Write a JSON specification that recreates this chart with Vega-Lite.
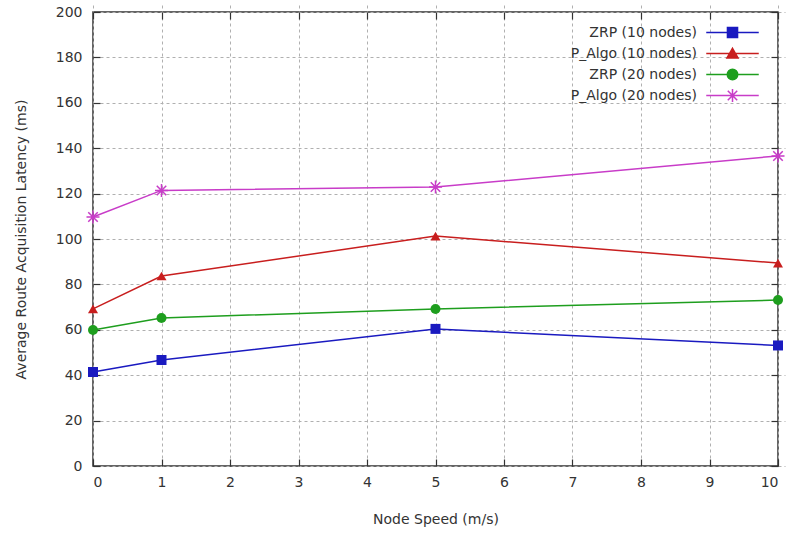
{
  "$schema": "https://vega.github.io/schema/vega-lite/v6.json",
  "width": 685,
  "height": 454,
  "autosize": "none",
  "padding": {"left": 93, "top": 12, "right": 15, "bottom": 67},
  "background": "white",
  "config": {
    "view": {"stroke": "#333333", "strokeWidth": 1.5},
    "font": "DejaVu Sans",
    "axis": {
      "labelFont": "DejaVu Sans",
      "titleFont": "DejaVu Sans",
      "labelFontSize": 14,
      "titleFontSize": 14,
      "labelColor": "#333333",
      "titleColor": "#333333",
      "titleFontWeight": "normal",
      "domain": false,
      "tickColor": "#333333",
      "tickWidth": 1.2,
      "tickSize": 7,
      "offset": -7,
      "gridColor": "#b0b0b0",
      "gridDash": [3, 3],
      "gridWidth": 1
    }
  },
  "data": {
    "values": [
      {"speed": 0, "latency": 41.4, "series": "ZRP (10 nodes)"},
      {"speed": 1, "latency": 46.7, "series": "ZRP (10 nodes)"},
      {"speed": 5, "latency": 60.4, "series": "ZRP (10 nodes)"},
      {"speed": 10, "latency": 53.1, "series": "ZRP (10 nodes)"},
      {"speed": 0, "latency": 69.2, "series": "P_Algo (10 nodes)"},
      {"speed": 1, "latency": 83.7, "series": "P_Algo (10 nodes)"},
      {"speed": 5, "latency": 101.3, "series": "P_Algo (10 nodes)"},
      {"speed": 10, "latency": 89.4, "series": "P_Algo (10 nodes)"},
      {"speed": 0, "latency": 59.9, "series": "ZRP (20 nodes)"},
      {"speed": 1, "latency": 65.2, "series": "ZRP (20 nodes)"},
      {"speed": 5, "latency": 69.2, "series": "ZRP (20 nodes)"},
      {"speed": 10, "latency": 73.1, "series": "ZRP (20 nodes)"},
      {"speed": 0, "latency": 109.7, "series": "P_Algo (20 nodes)"},
      {"speed": 1, "latency": 121.4, "series": "P_Algo (20 nodes)"},
      {"speed": 5, "latency": 122.9, "series": "P_Algo (20 nodes)"},
      {"speed": 10, "latency": 136.6, "series": "P_Algo (20 nodes)"}
    ]
  },
  "resolve": {"axis": {"x": "independent", "y": "independent"}},
  "layer": [
    {
      "mark": {"type": "line", "strokeWidth": 1.5},
      "encoding": {
        "x": {
          "field": "speed", "type": "quantitative",
          "scale": {"domain": [0, 10], "nice": false, "zero": false},
          "axis": {"title": "Node Speed (m/s)", "values": [0,1,2,3,4,5,6,7,8,9,10], "labelPadding": 9, "titlePadding": 23, "grid": true}
        },
        "y": {
          "field": "latency", "type": "quantitative",
          "scale": {"domain": [0, 200], "nice": false},
          "axis": {"title": "Average Route Acquisition Latency (ms)", "values": [0,20,40,60,80,100,120,140,160,180,200], "labelPadding": 11, "titlePadding": 27, "grid": true}
        },
        "color": {
          "field": "series", "type": "nominal",
          "scale": {
            "domain": ["ZRP (10 nodes)", "P_Algo (10 nodes)", "ZRP (20 nodes)", "P_Algo (20 nodes)"],
            "range": ["#1a1ac0", "#c81e1e", "#1e9e1e", "#c83cc8"]
          },
          "legend": {
            "orient": "none",
            "legendX": 628,
            "legendY": 9,
            "title": null,
            "padding": 0,
            "rowPadding": 1,
            "symbolSize": 441,
            "symbolStrokeWidth": 1.5,
            "labelAlign": "right",
            "labelOffset": -47,
            "labelFontSize": 14,
            "labelColor": "#333333",
            "labelFont": "DejaVu Sans",
            "labelLimit": 300,
            "encode": {
              "symbols": {
                "update": {
                  "shape": {"signal": "datum.value === 'ZRP (10 nodes)' ? 'M-2.5,0H2.5M-0.48,-0.48H0.48V0.48H-0.48Z' : datum.value === 'P_Algo (10 nodes)' ? 'M-2.5,0H2.5M0,-0.5L0.53,0.43H-0.53Z' : datum.value === 'ZRP (20 nodes)' ? 'M-2.5,0H2.5M-0.5,0A0.5,0.5,0,1,0,0.5,0A0.5,0.5,0,1,0,-0.5,0Z' : 'M-2.5,0H2.5M0,-0.63V0.63M-0.63,0H0.63M-0.45,-0.45L0.45,0.45M-0.45,0.45L0.45,-0.45'"},
                  "fill": {"scale": "color", "field": "value"},
                  "fillOpacity": {"value": 1}
                }
              }
            }
          }
        }
      }
    },
    {
      "transform": [{"filter": {"field": "series", "equal": "ZRP (10 nodes)"}}],
      "mark": {"type": "point", "shape": "square", "filled": true, "opacity": 1, "size": 100, "color": "#1a1ac0"},
      "encoding": {
        "x": {"field": "speed", "type": "quantitative", "scale": {"domain": [0, 10], "nice": false, "zero": false},
          "axis": {"orient": "top", "labels": false, "title": null, "grid": false, "values": [0,1,2,3,4,5,6,7,8,9,10]}},
        "y": {"field": "latency", "type": "quantitative", "scale": {"domain": [0, 200], "nice": false},
          "axis": {"orient": "right", "labels": false, "title": null, "grid": false, "values": [0,20,40,60,80,100,120,140,160,180,200]}}
      }
    },
    {
      "transform": [{"filter": {"field": "series", "equal": "P_Algo (10 nodes)"}}],
      "mark": {"type": "point", "shape": "triangle-up", "filled": true, "opacity": 1, "size": 100, "color": "#c81e1e"},
      "encoding": {
        "x": {"field": "speed", "type": "quantitative", "axis": null},
        "y": {"field": "latency", "type": "quantitative", "axis": null}
      }
    },
    {
      "transform": [{"filter": {"field": "series", "equal": "ZRP (20 nodes)"}}],
      "mark": {"type": "point", "shape": "circle", "filled": true, "opacity": 1, "size": 100, "color": "#1e9e1e"},
      "encoding": {
        "x": {"field": "speed", "type": "quantitative", "axis": null},
        "y": {"field": "latency", "type": "quantitative", "axis": null}
      }
    },
    {
      "transform": [{"filter": {"field": "series", "equal": "P_Algo (20 nodes)"}}],
      "mark": {"type": "point", "shape": "M0,-1.3V1.3M-1.3,0H1.3M-0.95,-0.95L0.95,0.95M-0.95,0.95L0.95,-0.95", "filled": false, "opacity": 1, "size": 100, "color": "#c83cc8", "strokeWidth": 1.5},
      "encoding": {
        "x": {"field": "speed", "type": "quantitative", "axis": null},
        "y": {"field": "latency", "type": "quantitative", "axis": null}
      }
    }
  ]
}
